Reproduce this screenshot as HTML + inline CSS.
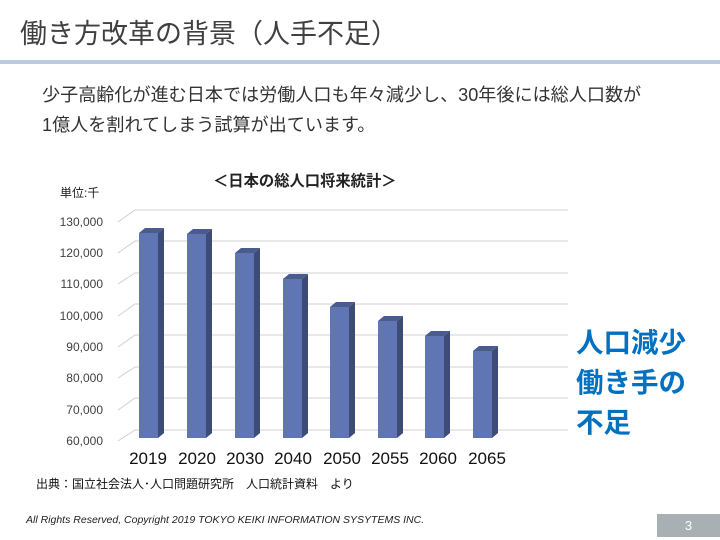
<!DOCTYPE html><html><head><meta charset="utf-8"><style>
body{margin:0;width:720px;height:540px;background:#fff;position:relative;overflow:hidden;font-family:"Liberation Sans","Noto Sans CJK JP",sans-serif}
.a{position:absolute;white-space:nowrap}
</style></head><body>
<div class="a" style="left:20px;top:12px;font-size:27px;color:#404040">働き方改革の背景（人手不足）</div>
<div class="a" style="left:0;top:60px;width:720px;height:4px;background:#bccadf"></div>
<div class="a" style="left:42px;top:80px;font-size:18.1px;color:#333;line-height:30px">少子高齢化が進む日本では労働人口も年々減少し、30年後には総人口数が<br>1億人を割れてしまう試算が出ています。</div>
<div class="a" style="left:213px;top:169px;font-size:15.3px;font-weight:bold;color:#222">＜日本の総人口将来統計＞</div>
<div class="a" style="left:60px;top:184px;font-size:12px;color:#222">単位:千</div>
<svg class="a" style="left:0;top:0" width="720" height="540">
<g stroke="#d0d0d0" stroke-width="1" fill="none">
<path d="M118 222L135 210H568M118 253L135 241H568M118 284L135 273H568M118 316L135 304H568M118 347L135 335H568M118 378L135 367H568M118 410L135 398H568M118 441L135 430H568"/>
</g>
<g font-size="12" fill="#404040" text-anchor="end" font-family="Liberation Sans,sans-serif">
<text x="103" y="226">130,000</text><text x="103" y="257">120,000</text><text x="103" y="288">110,000</text><text x="103" y="320">100,000</text><text x="103" y="351">90,000</text><text x="103" y="382">80,000</text><text x="103" y="414">70,000</text><text x="103" y="445">60,000</text>
</g>
<g id="bars"></g>
<g font-size="17" fill="#111" text-anchor="middle" font-family="Liberation Sans,sans-serif">
<text x="148" y="464">2019</text><text x="197" y="464">2020</text><text x="245" y="464">2030</text><text x="293" y="464">2040</text><text x="342" y="464">2050</text><text x="390" y="464">2055</text><text x="438" y="464">2060</text><text x="487" y="464">2065</text>
</g>
</svg>
<script>
var xs=[139,187,235,283,330,378,425,473],ts=[233,234,253,279,307,321,336,351],s='';
for(var i=0;i<8;i++){var x=xs[i],t=ts[i],b=438,w=19;
s+='<rect x="'+x+'" y="'+t+'" width="'+w+'" height="'+(b-t)+'" fill="#6076b4"/>';
s+='<polygon points="'+(x+w)+','+t+' '+(x+w+6)+','+(t-5)+' '+(x+w+6)+','+(b-5)+' '+(x+w)+','+b+'" fill="#3e4b76"/>';
s+='<polygon points="'+x+','+t+' '+(x+6)+','+(t-5)+' '+(x+w+6)+','+(t-5)+' '+(x+w)+','+t+'" fill="#4a5b8f"/>';}
document.getElementById('bars').innerHTML=s;
</script>
<div class="a" style="left:576px;top:323px;font-size:27.5px;font-weight:bold;color:#0070c0;line-height:40px">人口減少<br>働き手の<br>不足</div>
<div class="a" style="left:36px;top:475px;font-size:12px;color:#111">出典：国立社会法人･人口問題研究所　人口統計資料　より</div>
<div class="a" style="left:26px;top:514px;font-size:10.5px;font-style:italic;color:#222">All Rights Reserved, Copyright 2019 TOKYO KEIKI INFORMATION SYSYTEMS INC.</div>
<div class="a" style="left:657px;top:514px;width:63px;height:23px;background:#a9b0b4;color:#fff;font-size:13px;text-align:center;line-height:23px">3</div>
</body></html>
